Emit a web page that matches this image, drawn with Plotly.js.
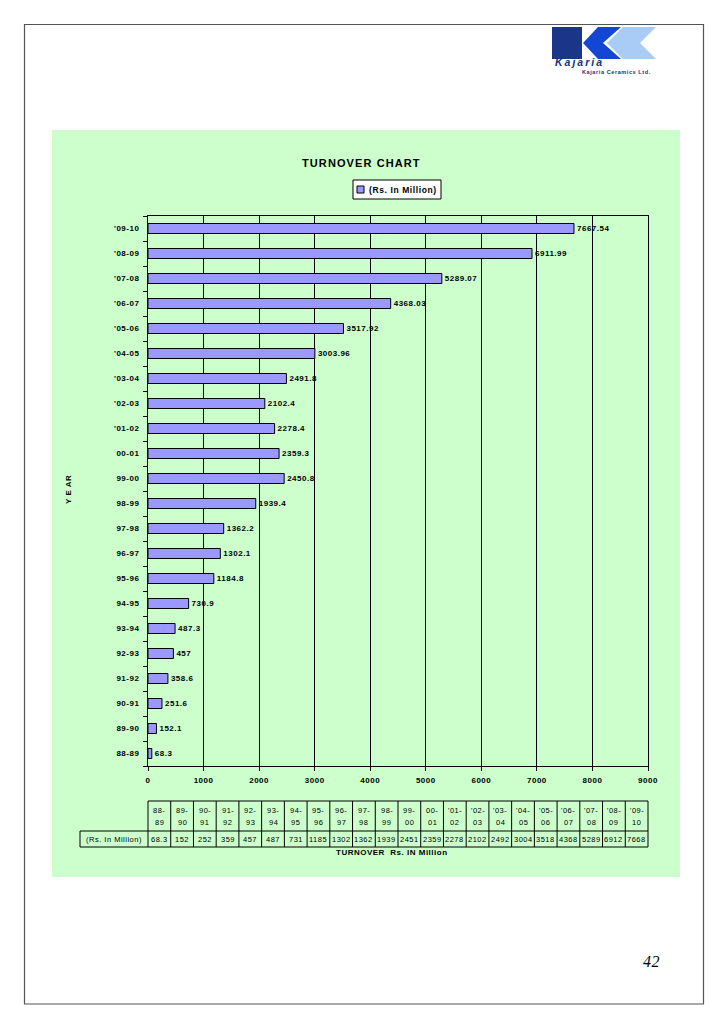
<!DOCTYPE html>
<html>
<head>
<meta charset="utf-8">
<script src="https://cdn.plot.ly/plotly-3.0.1.min.js"></script>
<style>
html,body{margin:0;padding:0;background:#fff;}
#chart{width:728px;height:1029px;}
svg text{letter-spacing:0.5px;}
</style>
</head>
<body>
<div id="chart"></div>
<script>
// ---- data ----
const categories = ["88-89","89-90","90-91","91-92","92-93","93-94","94-95","95-96","96-97","97-98","98-99","99-00","00-01","'01-02","'02-03","'03-04","'04-05","'05-06","'06-07","'07-08","'08-09","'09-10"];
const turnover = [68.3,152.1,251.6,358.6,457,487.3,730.9,1184.8,1302.1,1362.2,1939.4,2450.8,2359.3,2278.4,2102.4,2491.8,3003.96,3517.92,4368.03,5289.07,6911.99,7667.54];
const tableHeadTop = ["88-","89-","90-","91-","92-","93-","94-","95-","96-","97-","98-","99-","00-","'01-","'02-","'03-","'04-","'05-","'06-","'07-","'08-","'09-"];
const tableHeadBottom = ["89","90","91","92","93","94","95","96","97","98","99","00","01","02","03","04","05","06","07","08","09","10"];
const tableValues = ["68.3","152","252","359","457","487","731","1185","1302","1362","1939","2451","2359","2278","2102","2492","3004","3518","4368","5289","6912","7668"];
const seriesName = "(Rs. In Million)";
const xTicks = [0,1000,2000,3000,4000,5000,6000,7000,8000,9000];

// ---- pixel helpers (layout only) ----
const L = 148, R = 648, T = 216, B = 766;
const xp = px => (px - L) / (R - L);
const yp = py => (B - py) / (B - T);
const FONT = "Liberation Sans, Arial, sans-serif";

const shapes = [];
const annotations = [];
function rect(x0, y0, x1, y1, fill, line, lw, layer) {
  shapes.push({type:'rect', xref:'paper', yref:'paper', x0:xp(x0), x1:xp(x1), y0:yp(y1), y1:yp(y0),
    fillcolor: fill || 'rgba(0,0,0,0)', line:{color: line || 'rgba(0,0,0,0)', width: lw || 0}, layer: layer || 'above'});
}
function seg(x0, y0, x1, y1, color, w) {
  shapes.push({type:'line', xref:'paper', yref:'paper', x0:xp(x0), x1:xp(x1), y0:yp(y0), y1:yp(y1),
    line:{color: color, width: w}, layer:'above'});
}
function poly(pts, fill) {
  const d = pts.map((p, i) => (i ? 'L' : 'M') + xp(p[0]).toFixed(5) + ',' + yp(p[1]).toFixed(5)).join(' ') + ' Z';
  shapes.push({type:'path', xref:'paper', yref:'paper', path:d, fillcolor:fill, line:{width:0}, layer:'above'});
}
function text(t, x, y, opts) {
  opts = opts || {};
  annotations.push(Object.assign({text:t, xref:'paper', yref:'paper', x:xp(x), y:yp(y), showarrow:false,
    xanchor: opts.xanchor || 'center', yanchor:'middle',
    font:{family: opts.family || FONT, size: opts.size || 8, color: opts.color || '#000',
      weight: opts.weight || 'normal', style: opts.style || 'normal'}}, opts.extra || {}));
}

// page border and green panel
rect(24.5, 24.5, 703.5, 1004, 'rgba(0,0,0,0)', '#555', 1.2, 'below');
rect(52, 130, 680, 877, '#ccffcc', 'rgba(0,0,0,0)', 0, 'below');

// logo
rect(552, 27, 582, 59, '#1b3589', null, 0);
poly([[598,27],[621,27],[603,43],[621,59],[598,59],[583,43]], '#1446d4');
poly([[623,27],[656,27],[640,43],[656,59],[623,59],[607,43]], '#a8ccf5');
text('<span style="letter-spacing:2px">Kajaria</span>', 553, 62, {xanchor:'left', size:10.5, weight:'bold', style:'italic', color:'#1b2f7a'});
text('<span style="letter-spacing:0.6px">Kajaria Ceramics Ltd.</span>', 580, 71.5, {xanchor:'left', size:5.5, weight:'bold', color:'#1b2f7a'});

// title, legend, axis titles
text('<span style="letter-spacing:1.1px">TURNOVER CHART</span>', 361, 163, {size:11, weight:'bold'});
rect(353, 180, 441, 199, '#ffffff', '#000', 1);
rect(357, 186, 364, 193, '#9999ff', '#000', 1);
text('<span style="letter-spacing:0.6px">' + seriesName + '</span>', 367, 189.5, {xanchor:'left', size:8.5, weight:'bold'});
text('Y E AR', 68, 490, {size:8, weight:'bold', extra:{textangle:-90}});
text('TURNOVER  Rs. IN Million', 392, 852, {size:8, weight:'bold'});

// data table
const n = categories.length;
const cw = (R - L) / n;
const tTop = 801, tMid = 831, tBot = 847;
seg(L, tTop, R, tTop, '#000', 1);
seg(80, tMid, R, tMid, '#000', 1);
seg(80, tBot, R, tBot, '#000', 1);
seg(80, tMid, 80, tBot, '#000', 1);
for (let i = 0; i <= n; i++) seg(L + i * cw, tTop, L + i * cw, tBot, '#000', 1);
text(seriesName, 114, 839, {size:7.5});
for (let i = 0; i < n; i++) {
  const cx = L + (i + 0.5) * cw;
  text(tableHeadTop[i], cx, 810, {size:7.5});
  text(tableHeadBottom[i], cx, 823, {size:7.5});
  text(tableValues[i], cx, 839, {size:7.5});
}

// page number
text('42', 651.5, 961, {family:'Liberation Serif, Times New Roman, serif', size:16, style:'italic'});

const trace = {
  type:'bar', orientation:'h', name:seriesName,
  y: categories, x: turnover,
  width: 0.4,
  marker:{color:'#9999ff', line:{color:'#000', width:1}},
  text: turnover.map(v => String(v)),
  textposition:'outside', constraintext:'none', cliponaxis:false,
  textfont:{family:FONT, size:8, color:'#000', weight:'bold'},
  hoverinfo:'none', showlegend:false
};

const layout = {
  width:728, height:1029,
  margin:{l:L, r:728 - R, t:T, b:1029 - B, pad:0},
  paper_bgcolor:'#ffffff', plot_bgcolor:'rgba(0,0,0,0)',
  showlegend:false,
  xaxis:{range:[0,9000], tickvals:xTicks, ticktext:xTicks.map(String), showgrid:true, gridcolor:'#000', gridwidth:1,
    zeroline:false, showline:true, linecolor:'#000', linewidth:1, mirror:true,
    ticks:'outside', ticklen:4, tickcolor:'#000', ticklabelstandoff:2,
    tickfont:{family:FONT, size:8, color:'#000', weight:'bold'}, fixedrange:true},
  yaxis:{type:'category', categoryorder:'array', categoryarray:categories,
    showgrid:false, zeroline:false, showline:true, linecolor:'#000', linewidth:1, mirror:true,
    ticks:'outside', tickson:'boundaries', ticklen:4, tickcolor:'#000', ticklabelstandoff:6,
    tickfont:{family:FONT, size:8, color:'#000', weight:'bold'}, fixedrange:true},
  shapes: shapes,
  annotations: annotations
};

Plotly.newPlot('chart', [trace], layout, {staticPlot:true, displayModeBar:false});
</script>
</body>
</html>
